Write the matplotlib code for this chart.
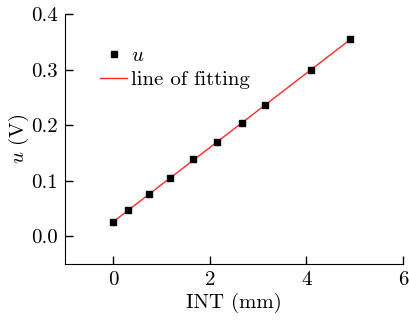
import numpy as np
import matplotlib
matplotlib.use("Agg")
import matplotlib.pyplot as plt

# Data
int_mm = [0.0, 0.31, 0.745, 1.18, 1.66, 2.15, 2.67, 3.15, 4.10, 4.91]
u_volt = [0.025, 0.047, 0.076, 0.105, 0.139, 0.170, 0.204, 0.236, 0.299, 0.355]

plt.rcParams["font.family"] = "cmr10"
plt.rcParams["mathtext.fontset"] = "cm"
plt.rcParams["axes.formatter.use_mathtext"] = True
plt.rcParams["font.size"] = 15

fig = plt.figure(figsize=(4.09, 3.2), dpi=100)
ax = fig.add_axes([0.159, 0.175, 0.826, 0.781])

# Linear fit
slope, intercept = np.polyfit(int_mm, u_volt, 1)
x_fit = np.array([int_mm[0], int_mm[-1]])
ax.plot(x_fit, slope * x_fit + intercept, "-", color="#ff2a2a", lw=1.0, label="line of fitting", zorder=2)
ax.plot(int_mm, u_volt, "s", color="black", ms=4, label="$u$", zorder=3)

ax.set_xlim(-1, 6)
ax.set_ylim(-0.05, 0.4)
ax.set_xticks([0, 2, 4, 6])
ax.set_yticks([0.0, 0.1, 0.2, 0.3, 0.4])
ax.set_yticklabels(["0.0", "0.1", "0.2", "0.3", "0.4"])
ax.set_xticklabels(["0", "2", "4", "6"])
ax.spines["top"].set_visible(False)
ax.spines["right"].set_visible(False)
ax.tick_params(direction="in", length=6, width=1, labelsize=15, pad=5)
ax.set_xlabel("INT (mm)", fontsize=15, labelpad=3)
ax.set_ylabel("$u$ (V)", fontsize=15, labelpad=0)

handles, labels = ax.get_legend_handles_labels()
ax.legend(handles[::-1], labels[::-1], loc="upper left", frameon=False,
          bbox_to_anchor=(0.079, 0.902), handlelength=1.3, handletextpad=0.18,
          labelspacing=0.25, borderaxespad=0, fontsize=15)

fig.savefig("out.png", dpi=100)
